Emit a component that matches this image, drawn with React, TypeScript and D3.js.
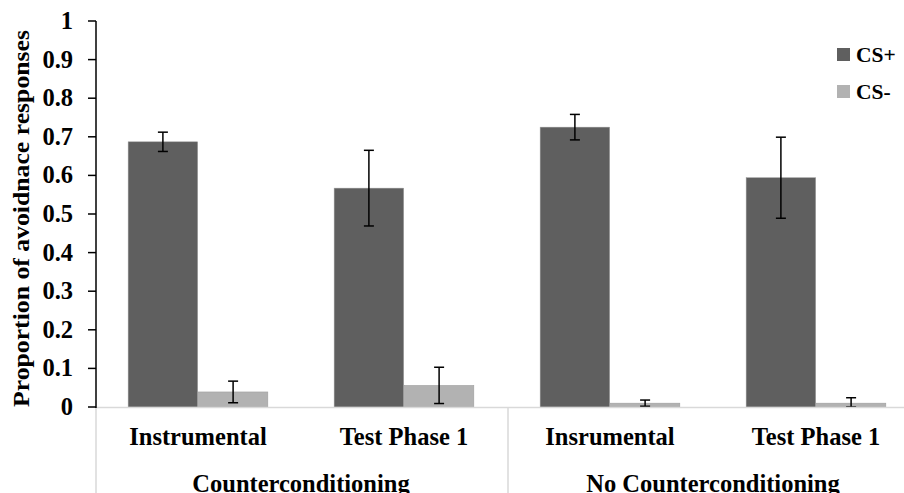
import React from "react";
import * as d3 from "d3";

const conditions = ["Counterconditioning", "No Counterconditioning"];
const phases = ["Instrumental", "Test Phase 1", "Insrumental", "Test Phase 1"];
const phaseCondition = [0, 0, 1, 1];
const series = ["CS+", "CS-"];
const csPlus = [0.687, 0.567, 0.725, 0.594];
const csPlusErr = [0.025, 0.098, 0.033, 0.105];
const csMinus = [0.039, 0.056, 0.01, 0.01];
const csMinusErr = [0.028, 0.047, 0.008, 0.014];
const yTicks = [0, 0.1, 0.2, 0.3, 0.4, 0.5, 0.6, 0.7, 0.8, 0.9, 1];

const colors = ["#5f5f5f", "#b2b2b2"];
const font = "'Liberation Serif', 'Times New Roman', serif";

export default function App() {
  const W = 904, H = 493;
  const left = 95, right = 919, top = 21, bottom = 407;

  const ids = phases.map((_, i) => "g" + i);
  const x0 = d3.scaleBand<string>().domain(ids).range([left, right])
    .paddingInner(0.315).paddingOuter(0.1575);
  const x1 = d3.scaleBand<string>().domain(series).range([0, x0.bandwidth()]).padding(0.01);
  const y = d3.scaleLinear().domain([0, 1]).range([bottom, top]);

  const vals = [csPlus, csMinus];
  const errs = [csPlusErr, csMinusErr];
  const step = x0.step();

  return (
    <svg width={W} height={H} style={{ position: "absolute", left: 0, top: 0, background: "#fff" }}
      fontFamily={font} fontWeight="bold">
      {/* bars */}
      {ids.map((id, i) => (
        <g key={id} transform={`translate(${x0(id)},0)`}>
          {series.map((s, k) => {
            const v = vals[k][i], e = errs[k][i];
            const bx = x1(s)!, bw = x1.bandwidth(), cx = bx + bw / 2;
            const lo = y(Math.max(0, v - e)), hi = y(v + e);
            return (
              <g key={s}>
                <rect x={bx} y={y(v)} width={bw} height={bottom - y(v)} fill={colors[k]}
                  stroke="#9a9a9a" strokeWidth={0.5} />
                <line x1={cx} x2={cx} y1={hi} y2={lo} stroke="#000" strokeWidth={1.5} />
                <line x1={cx - 5} x2={cx + 5} y1={hi} y2={hi} stroke="#000" strokeWidth={1.5} />
                <line x1={cx - 5} x2={cx + 5} y1={lo} y2={lo} stroke="#000" strokeWidth={1.5} />
              </g>
            );
          })}
        </g>
      ))}

      {/* category axis */}
      <line x1={left} x2={W} y1={bottom + 0.5} y2={bottom + 0.5} stroke="#d9d9d9" strokeWidth={1.5} />
      {[0, 2, 4].map((j) => (
        <line key={j} x1={left + 1 + j * step} x2={left + 1 + j * step} y1={bottom} y2={H}
          stroke="#d9d9d9" strokeWidth={1.5} />
      ))}
      {ids.map((id, i) => (
        <text key={id} x={x0(id)! + x0.bandwidth() / 2} y={445} textAnchor="middle" fontSize={24.5}>
          {phases[i]}
        </text>
      ))}
      {conditions.map((c, j) => {
        const members = ids.filter((_, i) => phaseCondition[i] === j);
        const a = x0(members[0])!, b = x0(members[members.length - 1])! + x0.bandwidth();
        return (
          <text key={c} x={(a + b) / 2} y={492} textAnchor="middle" fontSize={24.5}>{c}</text>
        );
      })}

      {/* y axis */}
      <line x1={left + 1} x2={left + 1} y1={top} y2={bottom + 1} stroke="#000" strokeWidth={1.5} />
      {yTicks.map((t) => (
        <g key={t}>
          <line x1={left - 7} x2={left + 1} y1={y(t)} y2={y(t)} stroke="#000" strokeWidth={1.5} />
          <text x={73} y={y(t) + 8} textAnchor="end" fontSize={24.5}>{t === 0 || t === 1 ? String(t) : t.toFixed(1)}</text>
        </g>
      ))}
      <text transform={`translate(29,${(30 + 407) / 2}) rotate(-90)`} textAnchor="middle" fontSize={24}
        textLength={377} lengthAdjust="spacingAndGlyphs">
        Proportion of avoidnace responses
      </text>

      {/* legend */}
      {series.map((s, k) => (
        <g key={s} transform={`translate(837,${48 + k * 37})`}>
          <rect width={13} height={13} fill={colors[k]} />
          <text x={19} y={14} fontSize={21.5}>{s}</text>
        </g>
      ))}
    </svg>
  );
}
